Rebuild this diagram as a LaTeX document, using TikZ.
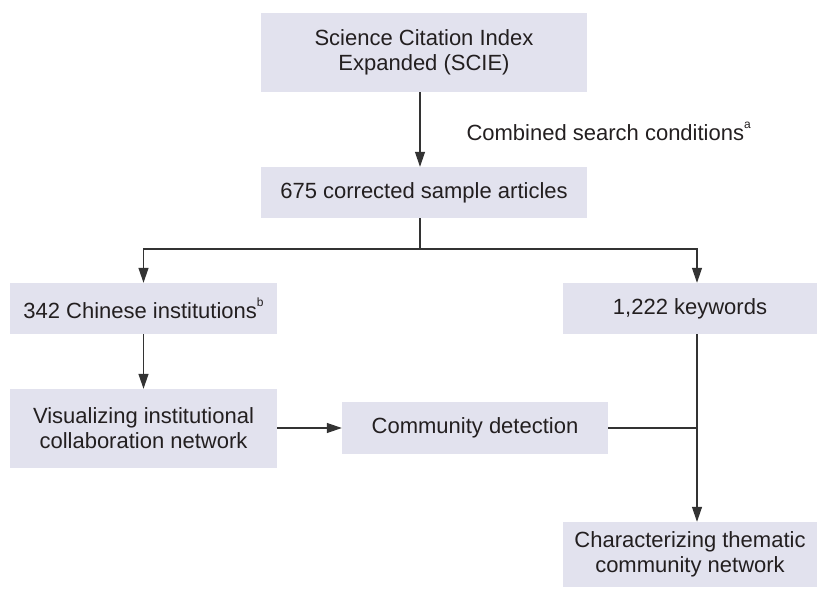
\documentclass[tikz,border=0pt]{standalone}
\usepackage{fontspec}
\setmainfont{Liberation Sans}
\usetikzlibrary{arrows.meta}

\definecolor{boxfill}{HTML}{E2E2EE}
\definecolor{ink}{HTML}{231F20}
\definecolor{wire}{HTML}{333333}

\newcommand{\footmark}[1]{\raisebox{0.55em}{\fontsize{12}{12}\selectfont #1}}

\tikzset{
  stagebox/.style={fill=boxfill, text=ink, inner sep=0pt, align=center,
    minimum width=#1},
  flow/.style={wire, line width=1.2pt},
  flowarr/.style={flow, -{Triangle[length=15pt, width=10pt]}},
}

\begin{document}
\begin{tikzpicture}[x=1pt, y=-1pt, font=\fontsize{22}{25}\selectfont, line cap=butt]

  % page frame, pixel grid of the reference (y grows downwards)
  \useasboundingbox (0,0) rectangle (817,596);

  % boxes
  \node[stagebox=326pt, minimum height=79pt] (scie)   at (424,  52.5)
      {Science Citation Index\\Expanded (SCIE)};
  \node[stagebox=326pt, minimum height=51pt] (sample) at (424, 192.5)
      {675 corrected sample articles};
  \node[stagebox=267pt, minimum height=51pt] (inst)   at (143.5, 308.5)
      {342 Chinese institutions\footmark{b}};
  \node[stagebox=254pt, minimum height=51pt] (kw)     at (690, 308.5)
      {1,222 keywords};
  \node[stagebox=267pt, minimum height=79pt] (vis)    at (143.5, 428.5)
      {Visualizing institutional\\collaboration network};
  \node[stagebox=266pt, minimum height=52pt] (comm)   at (475, 428)
      {Community detection};
  \node[stagebox=254pt, minimum height=65pt] (theme)  at (690, 554.5)
      {Characterizing thematic\\community network};

  % search step
  \draw[flowarr] ([xshift=-4pt]scie.south) -- ([xshift=-4pt]sample.north);
  \node[text=ink, anchor=west] (cond) at (463, 131)
      {Combined search conditions\footmark{a}};

  % branch into institutions and keywords
  \coordinate (split) at (420, 249);
  \draw[flow] ([xshift=-4pt]sample.south) -- (split);
  \draw[flowarr] (split) -| (inst.north);
  \draw[flowarr] (split) -| ([xshift=7pt]kw.north);

  % institution side
  \draw[flowarr] (inst.south) -- (vis.north);
  \draw[flowarr] (vis.east |- comm.west) -- (comm.west);

  % merge with keywords
  \coordinate (join) at (697, 428);
  \draw[flow] (comm.east) -- (join);
  \draw[flowarr] ([xshift=7pt]kw.south) -- ([xshift=7pt]theme.north);

\end{tikzpicture}
\end{document}
